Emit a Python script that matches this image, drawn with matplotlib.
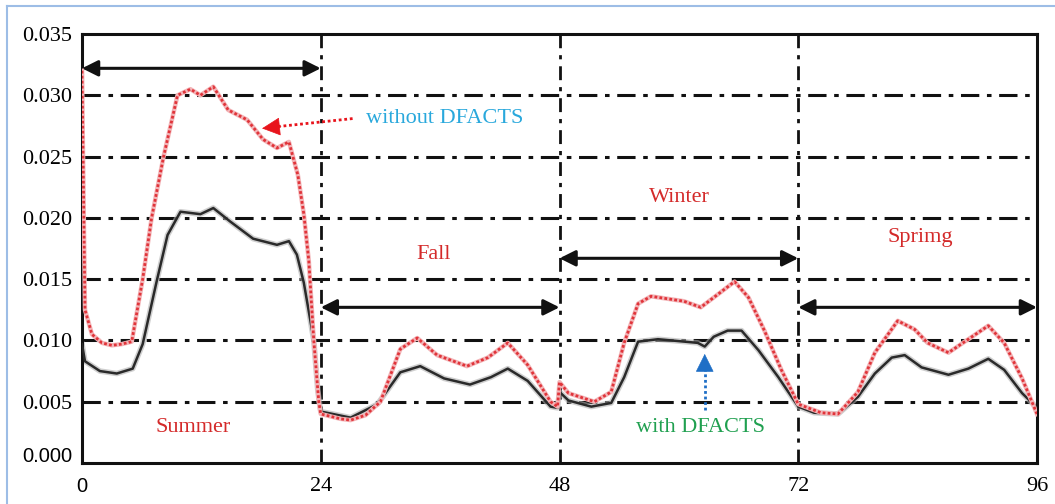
import matplotlib.pyplot as plt
from matplotlib.lines import Line2D
import matplotlib.transforms as mtransforms

# hours and loss values
hours_red = [0, 0.3, 1, 2, 3, 4, 5, 6.1, 7, 8.2, 9.6, 10.9, 11.9, 13.2, 14.7, 16.6, 18.2,
             19.6, 20.8, 21.7, 22.3, 22.8, 23.3, 23.8, 24, 26, 27, 28.5, 30, 32, 33.7,
             35.7, 38.7, 40.8, 42.8, 44.8, 47.1, 47.8, 48, 48.9, 51.5, 53.2, 54.5, 55.9,
             57.2, 60.5, 62.2, 63.5, 65.6, 67, 68.6, 70.3, 72, 74.3, 76, 78, 79.7, 82,
             83.7, 85, 87.1, 89.1, 91.1, 92.7, 94.5, 96]
loss_red = [0.032, 0.0125, 0.0105, 0.0098, 0.0096, 0.0097, 0.0099, 0.0150, 0.0200, 0.0250,
            0.0300, 0.0305, 0.0300, 0.0307, 0.0288, 0.0280, 0.0264, 0.0257, 0.0262, 0.0235,
            0.0203, 0.0165, 0.0100, 0.0050, 0.0040, 0.0036, 0.0035, 0.0039, 0.0050, 0.0093,
            0.0102, 0.0088, 0.0079, 0.0086, 0.0098, 0.0080, 0.0050, 0.0046, 0.0066, 0.0057,
            0.0050, 0.0058, 0.0098, 0.0130, 0.0136, 0.0132, 0.0127, 0.0135, 0.0148, 0.0135,
            0.0108, 0.0076, 0.0048, 0.0041, 0.0040, 0.0058, 0.0090, 0.0116, 0.0109, 0.0098,
            0.0090, 0.0101, 0.0112, 0.0098, 0.0069, 0.0040]

hours_blk = [0, 0.3, 1.8, 3.5, 5.1, 6.1, 7.5, 8.6, 9.9, 11.9, 13.2, 14.9, 17.2, 19.6, 20.8,
             21.6, 22.3, 23.3, 23.7, 24, 27, 29.7, 32, 34, 36.4, 39, 41.1, 42.8, 44.8,
             47.1, 47.8, 48, 48.9, 51.2, 53.2, 54.5, 55.9, 57.9, 61.9, 62.6, 63.5, 64.9,
             66.3, 68, 70, 72, 73.6, 76, 78, 79.7, 81.4, 82.7, 84.4, 87.1, 89.1, 91.1,
             92.7, 94.5, 96]
loss_blk = [0.0097, 0.0083, 0.0075, 0.0073, 0.0077, 0.0097, 0.0148, 0.0186, 0.0205, 0.0203,
            0.0208, 0.0197, 0.0183, 0.0178, 0.0181, 0.0170, 0.0147, 0.0100, 0.0059, 0.0042,
            0.0037, 0.0048, 0.0074, 0.0079, 0.0069, 0.0064, 0.0070, 0.0077, 0.0067, 0.0046,
            0.0045, 0.0058, 0.0051, 0.0046, 0.0049, 0.0070, 0.0099, 0.0101, 0.0098, 0.0095,
            0.0103, 0.0108, 0.0108, 0.0092, 0.0070, 0.0046, 0.0041, 0.0040, 0.0054, 0.0073,
            0.0086, 0.0088, 0.0078, 0.0072, 0.0077, 0.0085, 0.0076, 0.0057, 0.0045]

seasons = ['Summer', 'Fall', 'Winter', 'Sprimg']
season_bounds = [0, 24, 48, 72, 96]
season_arrow_y = [0.0322, 0.0127, 0.0167, 0.0127]
season_label_pos = [(11.2, 0.0029), (35.3, 0.0170), (60.1, 0.0217), (84.3, 0.0184)]

yticks = [0.000, 0.005, 0.010, 0.015, 0.020, 0.025, 0.030, 0.035]
xticks = [0, 24, 48, 72, 96]

serif = 'Liberation Serif'
fs = 16
fig = plt.figure(figsize=(10.55, 5.04), dpi=100)
ax = fig.add_axes([82 / 1055, 1 - 463 / 504, (1037 - 82) / 1055, (463 - 34) / 504])

# dash-dot grid
for v in yticks[1:-1]:
    ax.axhline(v, color='#111111', lw=2.2, ls=(0, (6, 2.5, 1.5, 2.5)), zorder=1)
for h in xticks[1:-1]:
    ax.axvline(h, color='#111111', lw=2.0, ls=(0, (5, 2.5, 1.5, 2.5)), zorder=1)

# curves
ax.plot(hours_blk, loss_blk, color='#b0b0b0', lw=4, alpha=0.6, zorder=2)
ax.plot(hours_blk, loss_blk, color='#2a2a2a', lw=1.8, zorder=3)
ax.plot(hours_red, loss_red, color='#f3b5b8', lw=3.2, zorder=4)
ax.plot(hours_red, loss_red, color='#e0343a', lw=2.0, ls=(0, (1, 0.8)), zorder=5)

# season arrows and names
for i, name in enumerate(seasons):
    ax.annotate('', xy=(season_bounds[i + 1], season_arrow_y[i]),
                xytext=(season_bounds[i], season_arrow_y[i]),
                arrowprops=dict(arrowstyle='<|-|>', color='#111111', lw=2.2,
                                mutation_scale=24, shrinkA=0, shrinkB=0), zorder=6)
    x, y = season_label_pos[i]
    ax.text(x, y, name, color='#d42a2a', fontsize=fs, family=serif,
            ha='center', va='center', zorder=7)

# annotations: dotted shaft plus solid head
ax.plot([27.2, 19.5], [0.0281, 0.02743], color='#e8141c', lw=2.0, ls=(0, (1, 1)), zorder=8)
ax.annotate('', xy=(18.1, 0.0273), xytext=(20.0, 0.02746),
            arrowprops=dict(arrowstyle='-|>', color='#e8141c', lw=0.5,
                            mutation_scale=30, shrinkA=0, shrinkB=0), zorder=8)
ax.text(28.5, 0.0281, 'without DFACTS', color='#29a8dc', fontsize=fs,
        family=serif, ha='left', va='center', zorder=8)
ax.plot([62.6, 62.6], [0.0043, 0.0080], color='#1f6fc6', lw=2.0, ls=(0, (1, 1)), zorder=8)
ax.annotate('', xy=(62.6, 0.0089), xytext=(62.6, 0.0080),
            arrowprops=dict(arrowstyle='-|>', color='#1f6fc6', lw=0.5,
                            mutation_scale=30, shrinkA=0, shrinkB=0), zorder=8)
ax.text(62.2, 0.0029, 'with DFACTS', color='#20a050', fontsize=fs,
        family=serif, ha='center', va='center', zorder=8)

ax.set_xlim(0, 96)
ax.set_ylim(0, 0.035)
ax.set_xticks(xticks)
ax.set_xticklabels([str(t) for t in xticks])
ax.set_yticks(yticks)
ax.set_yticklabels(['%.3f' % t for t in yticks])
ax.tick_params(length=0, labelsize=fs)
ax.tick_params(axis='x', pad=10)
ax.tick_params(axis='y', pad=7)
for lab in ax.get_xticklabels() + ax.get_yticklabels():
    lab.set_family(serif)
zero_y = ax.get_yticklabels()[0]
zero_y.set_family('Liberation Sans')
zero_y.set_fontsize(14.5)
zero_y.set_transform(zero_y.get_transform() +
                     mtransforms.ScaledTranslation(0, 8 / 100, fig.dpi_scale_trans))
zero_x = ax.get_xticklabels()[0]
zero_x.set_family('Liberation Sans')
zero_x.set_fontsize(14.5)
for s in ax.spines.values():
    s.set_linewidth(2.2)
    s.set_color('#111111')

# thin blue frame of the screenshot
fig.add_artist(Line2D([7 / 1055, 7 / 1055], [0, 1 - 6 / 504], color='#9dbde6', lw=1.5))
fig.add_artist(Line2D([7 / 1055, 1], [1 - 6 / 504, 1 - 6 / 504], color='#9dbde6', lw=1.5))

fig.savefig('out.png', dpi=100)
